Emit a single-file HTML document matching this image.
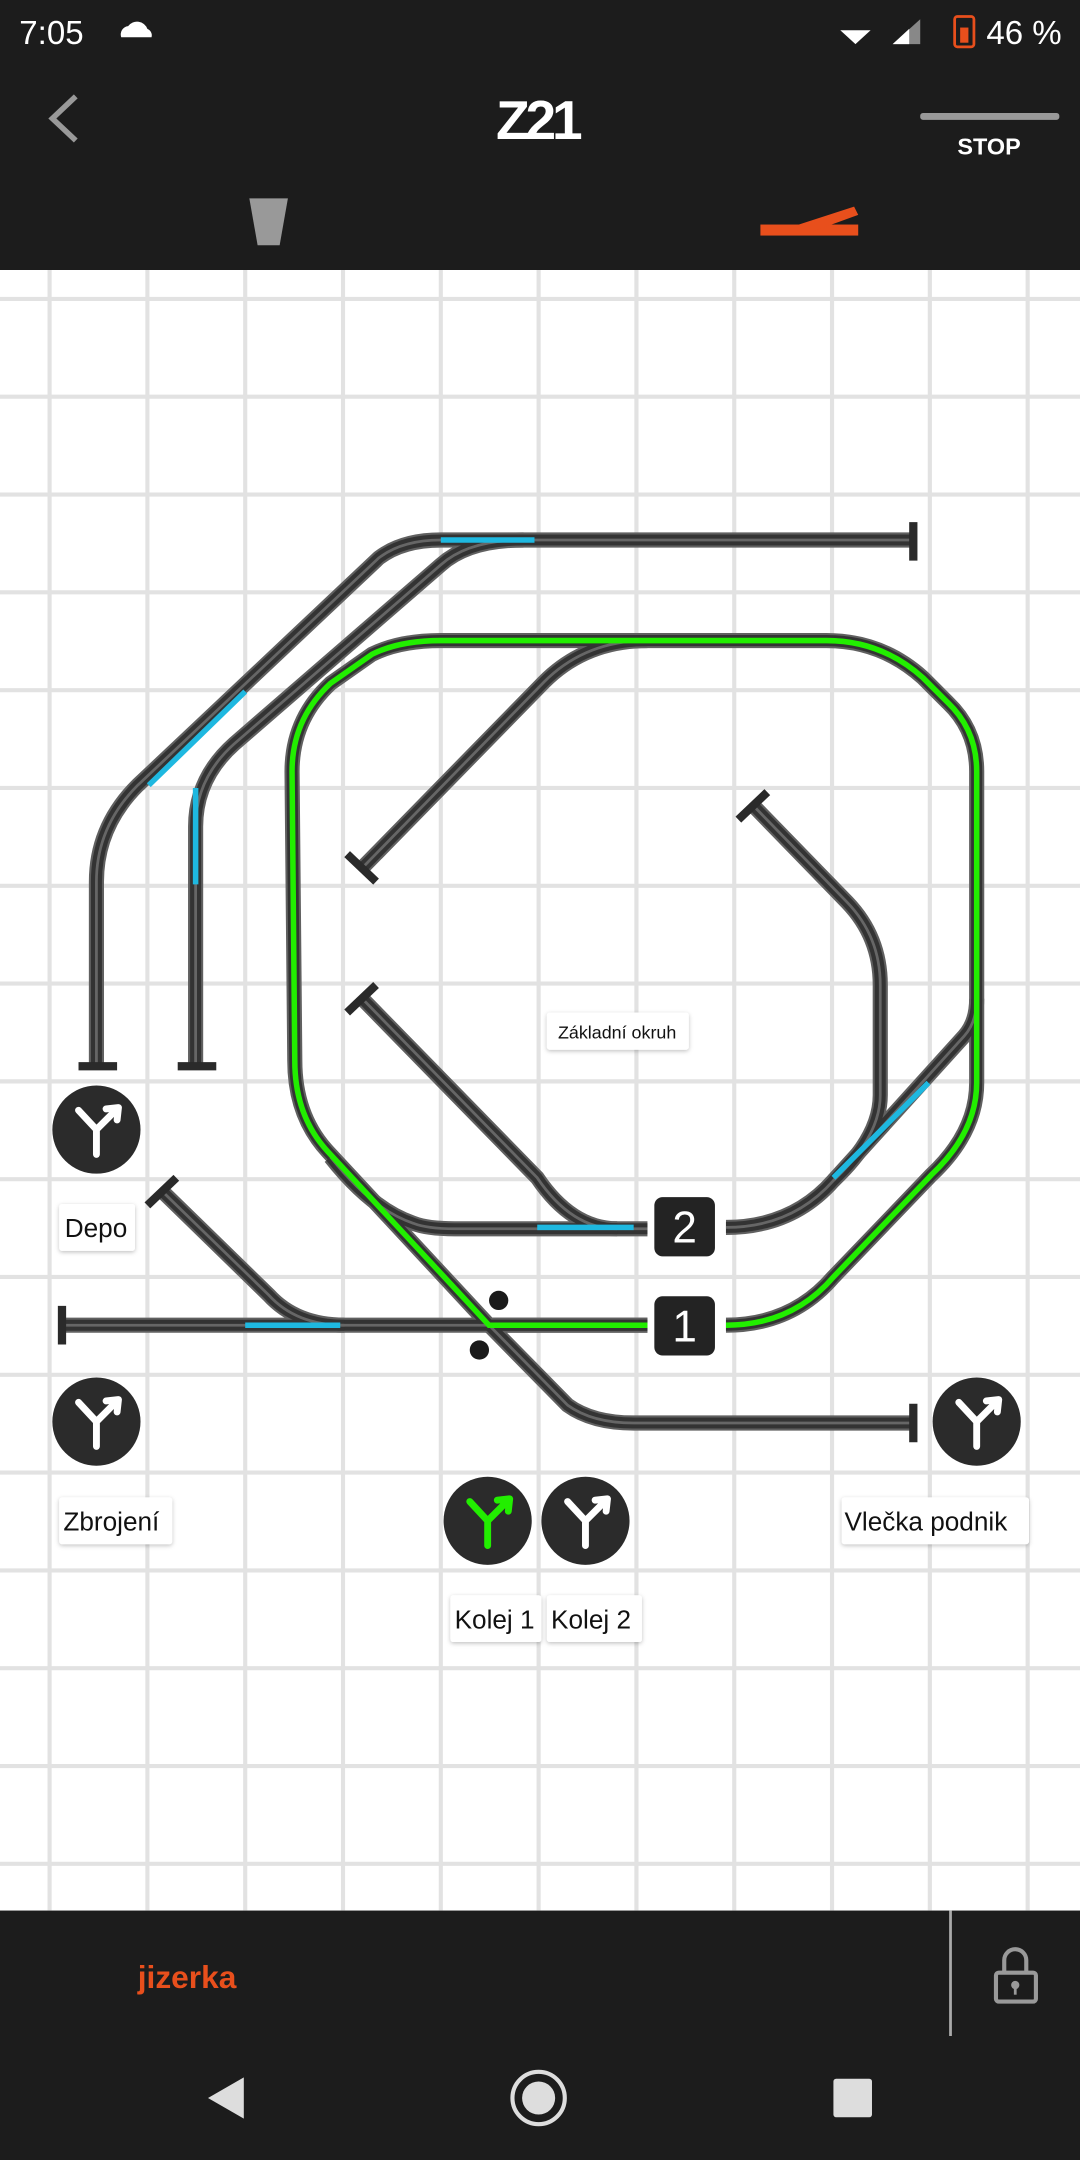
<!DOCTYPE html>
<html><head><meta charset="utf-8"><style>
html,body{margin:0;padding:0;background:#1c1c1c;}
svg{display:block;}
text{font-family:"Liberation Sans",sans-serif;}
</style></head><body>
<svg width="1080" height="2160" viewBox="0 0 784 1568" preserveAspectRatio="none" xmlns="http://www.w3.org/2000/svg">
<defs>
<filter id="sh" x="-20%" y="-20%" width="140%" height="160%"><feDropShadow dx="0" dy="1" stdDeviation="1.5" flood-color="#000" flood-opacity="0.25"/></filter>
<path id="tA" d="M70,773 L70,640 Q70,600 100,570 L275,405 Q292,392 320,392 L663,392"/>
<path id="tB" d="M142,773 L142,600 Q142,565 170,540 L320,410 Q340,392 380,392"/>
<path id="tL" d="M470,962 L355,962 L238,836 Q214,810 214,770 L212,560 Q212,522 240,496 L270,475 Q290,465 320,465 L600,465 Q640,465 670,492 L688,510 Q709,530 709,560 L709,786 Q709,822 676,853 L605,927 Q575,962 527,962"/>
<path id="tI" d="M263,630 L395,495 Q425,465 470,465"/>
<path id="tR" d="M547,585 L615,655 Q639,680 639,715 L639,795 Q639,825 605,857"/>
<path id="t2" d="M527,891 Q575,891 605,857 L700,752 Q709,742 709,725"/>
<path id="tC" d="M240,840 Q270,878 300,888 Q310,892 330,892 L470,892"/>
<path id="tD" d="M263,725 L390,855 Q415,892 448,892"/>
<path id="tE" d="M355,962 L412,1020 Q430,1033 460,1033 L663,1033"/>
<path id="tF" d="M45,962 L470,962"/>
<path id="tG" d="M118,865 L195,940 Q215,962 250,962"/>
</defs>
<rect x="0" y="0" width="784" height="196" fill="#1c1c1c"/>
<text x="14" y="32" fill="#fff" font-size="24">7:05</text>
<path d="M88,27 a6,6 0 0 1 5,-8 a8,8 0 0 1 14,2 a5,5 0 0 1 3,6 z" fill="#fff"/>
<path d="M610,22 L632,22 L621,32 z" fill="#fff"/>
<path d="M648,32 L668,14 L668,32 z" fill="#888"/><path d="M648,32 L660,21 L660,32 z" fill="#fff"/>
<rect x="693" y="12" width="14" height="22" rx="2" fill="none" stroke="#e84f1c" stroke-width="2"/>
<rect x="697" y="20" width="6" height="11" fill="#e84f1c"/>
<text x="716" y="32" fill="#fff" font-size="24">46 %</text>
<path d="M55,70 L38,86 L55,102" fill="none" stroke="#999" stroke-width="4"/>
<text x="390" y="101" fill="#fff" font-size="40" font-weight="bold" text-anchor="middle" letter-spacing="-3">Z21</text>
<rect x="668" y="82" width="101" height="5" rx="2" fill="#999"/>
<text x="718" y="112" fill="#fff" font-size="17" font-weight="bold" text-anchor="middle">STOP</text>
<path d="M181,144 L209,144 L203,178 L187,178 z" fill="#999"/>
<rect x="552" y="163" width="71" height="8" fill="#e84f1c"/>
<path d="M580,163 L620,150 L623,156 L590,168 z" fill="#e84f1c"/>
<rect x="0" y="196" width="784" height="1191" fill="#fff"/>
<g stroke="#e2e2e2" stroke-width="3">
<line x1="36" y1="196" x2="36" y2="1387"/><line x1="107" y1="196" x2="107" y2="1387"/><line x1="178" y1="196" x2="178" y2="1387"/><line x1="249" y1="196" x2="249" y2="1387"/><line x1="320" y1="196" x2="320" y2="1387"/><line x1="391" y1="196" x2="391" y2="1387"/><line x1="462" y1="196" x2="462" y2="1387"/><line x1="533" y1="196" x2="533" y2="1387"/><line x1="604" y1="196" x2="604" y2="1387"/><line x1="675" y1="196" x2="675" y2="1387"/><line x1="746" y1="196" x2="746" y2="1387"/>
<line x1="0" y1="217" x2="784" y2="217"/><line x1="0" y1="288" x2="784" y2="288"/><line x1="0" y1="359" x2="784" y2="359"/><line x1="0" y1="430" x2="784" y2="430"/><line x1="0" y1="501" x2="784" y2="501"/><line x1="0" y1="572" x2="784" y2="572"/><line x1="0" y1="643" x2="784" y2="643"/><line x1="0" y1="714" x2="784" y2="714"/><line x1="0" y1="785" x2="784" y2="785"/><line x1="0" y1="856" x2="784" y2="856"/><line x1="0" y1="927" x2="784" y2="927"/><line x1="0" y1="998" x2="784" y2="998"/><line x1="0" y1="1069" x2="784" y2="1069"/><line x1="0" y1="1140" x2="784" y2="1140"/><line x1="0" y1="1211" x2="784" y2="1211"/><line x1="0" y1="1282" x2="784" y2="1282"/><line x1="0" y1="1353" x2="784" y2="1353"/>
</g>
<g fill="none" stroke="#606060" stroke-width="11">
<use href="#tA"/><use href="#tB"/><use href="#tI"/><use href="#tR"/><use href="#t2"/><use href="#tC"/><use href="#tD"/><use href="#tE"/><use href="#tF"/><use href="#tG"/><use href="#tL"/>
</g>
<g fill="none" stroke="#333" stroke-width="8">
<use href="#tA"/><use href="#tB"/><use href="#tI"/><use href="#tR"/><use href="#t2"/><use href="#tC"/><use href="#tD"/><use href="#tE"/><use href="#tF"/><use href="#tG"/><use href="#tL"/>
</g>
<g fill="none" stroke="#666" stroke-width="2">
<use href="#tA"/><use href="#tB"/><use href="#tI"/><use href="#tR"/><use href="#t2"/><use href="#tC"/><use href="#tD"/><use href="#tE"/><use href="#tF"/><use href="#tG"/>
</g>
<use href="#tL" fill="none" stroke="#22ee00" stroke-width="4"/>
<g stroke="#1eb8e0" stroke-width="4">
<line x1="320" y1="392" x2="388" y2="392"/><line x1="108" y1="570" x2="178" y2="502"/><line x1="142" y1="572" x2="142" y2="642"/><line x1="390" y1="891" x2="460" y2="891"/><line x1="605" y1="855" x2="674" y2="786"/><line x1="178" y1="962" x2="247" y2="962"/>
</g>
<g stroke="#2a2a2a" stroke-width="6">
<line x1="57" y1="774" x2="85" y2="774"/><line x1="129" y1="774" x2="157" y2="774"/><line x1="663" y1="379" x2="663" y2="407"/><line x1="663" y1="1019" x2="663" y2="1047"/><line x1="45" y1="948" x2="45" y2="976"/>
<line x1="252" y1="620" x2="273" y2="640"/><line x1="252" y1="735" x2="273" y2="715"/><line x1="536" y1="595" x2="557" y2="575"/><line x1="107" y1="875" x2="128" y2="855"/>
</g>
<circle cx="362" cy="944" r="7" fill="#1a1a1a"/><circle cx="348" cy="980" r="7" fill="#1a1a1a"/>
<rect x="475" y="869" width="44" height="43" rx="6" fill="#232323"/><text x="497" y="902" fill="#fff" font-size="32" text-anchor="middle">2</text>
<rect x="475" y="941" width="44" height="43" rx="6" fill="#232323"/><text x="497" y="974" fill="#fff" font-size="32" text-anchor="middle">1</text>
<g><circle cx="70" cy="820" r="32" fill="#2b2b2b"/><path d="M70,838 L70,820 L57,806 M70,820 L85,805 M77,805 L86,804 L85,813" fill="none" stroke="#fff" stroke-width="5" stroke-linecap="round" stroke-linejoin="round"/></g>
<g><circle cx="70" cy="1032" r="32" fill="#2b2b2b"/><path d="M70,1050 L70,1032 L57,1018 M70,1032 L85,1017 M77,1017 L86,1016 L85,1025" fill="none" stroke="#fff" stroke-width="5" stroke-linecap="round" stroke-linejoin="round"/></g>
<g><circle cx="354" cy="1104" r="32" fill="#2b2b2b"/><path d="M354,1122 L354,1104 L341,1090 M354,1104 L369,1089 M361,1089 L370,1088 L369,1097" fill="none" stroke="#22ee00" stroke-width="5" stroke-linecap="round" stroke-linejoin="round"/></g>
<g><circle cx="425" cy="1104" r="32" fill="#2b2b2b"/><path d="M425,1122 L425,1104 L412,1090 M425,1104 L440,1089 M432,1089 L441,1088 L440,1097" fill="none" stroke="#fff" stroke-width="5" stroke-linecap="round" stroke-linejoin="round"/></g>
<g><circle cx="709" cy="1032" r="32" fill="#2b2b2b"/><path d="M709,1050 L709,1032 L696,1018 M709,1032 L724,1017 M716,1017 L725,1016 L724,1025" fill="none" stroke="#fff" stroke-width="5" stroke-linecap="round" stroke-linejoin="round"/></g>
<g filter="url(#sh)" fill="#fff">
<rect x="43" y="874" width="55" height="34" rx="2"/><rect x="43" y="1087" width="82" height="34" rx="2"/><rect x="327" y="1158" width="66" height="34" rx="2"/><rect x="397" y="1158" width="69" height="34" rx="2"/><rect x="611" y="1087" width="136" height="34" rx="2"/><rect x="397" y="735" width="103" height="27" rx="2"/>
</g>
<g fill="#111" font-size="19">
<text x="47" y="898">Depo</text><text x="46" y="1111">Zbrojení</text><text x="330" y="1182">Kolej 1</text><text x="400" y="1182">Kolej 2</text><text x="613" y="1111">Vlečka podnik</text>
<text x="448" y="754" font-size="13" text-anchor="middle">Základní okruh</text>
</g>
<rect x="0" y="1387" width="784" height="181" fill="#1c1c1c"/>
<text x="100" y="1443" fill="#e84f1c" font-size="23" font-weight="bold">jizerka</text>
<line x1="690" y1="1387" x2="690" y2="1478" stroke="#aaa" stroke-width="2"/>
<rect x="723" y="1432" width="29" height="21" rx="2" fill="none" stroke="#999" stroke-width="3"/>
<path d="M729,1432 L729,1423 a8,8 0 0 1 16,0 L745,1432" fill="none" stroke="#999" stroke-width="3"/>
<circle cx="737" cy="1441" r="3" fill="#999"/><rect x="736" y="1441" width="2" height="7" fill="#999"/>
<path d="M177,1508 L177,1538 L151,1523 z" fill="#ddd"/>
<circle cx="391" cy="1523" r="19" fill="none" stroke="#ddd" stroke-width="3"/><circle cx="391" cy="1523" r="12" fill="#ddd"/>
<rect x="605" y="1509" width="28" height="28" rx="2" fill="#ddd"/>
</svg>
</body></html>
